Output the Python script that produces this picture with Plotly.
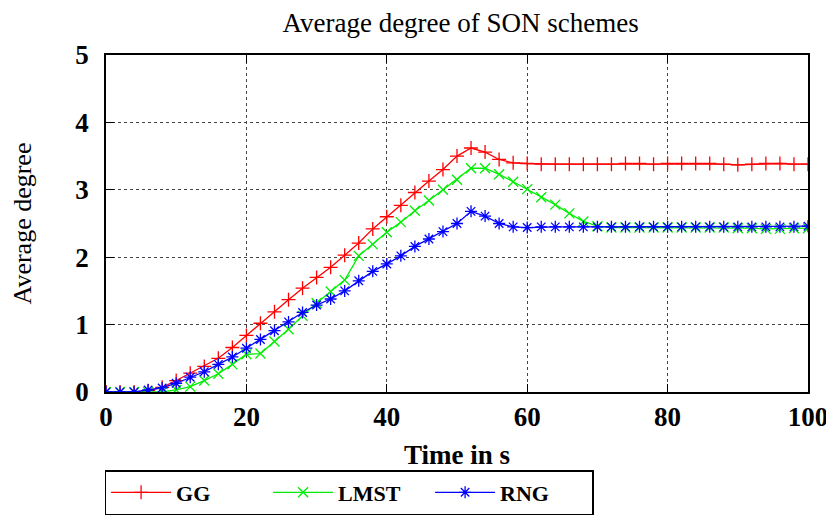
import plotly.graph_objects as go

time_s = list(range(0, 101, 2))

gg = [0, 0, 0, 0.02, 0.07, 0.17, 0.28, 0.38, 0.50, 0.66,
      0.84, 1.02, 1.19, 1.37, 1.54, 1.70, 1.85, 2.03, 2.21, 2.42,
      2.60, 2.77, 2.96, 3.13, 3.30, 3.50, 3.62, 3.56, 3.45, 3.40,
      3.39, 3.38, 3.38, 3.38, 3.38, 3.38, 3.38, 3.39, 3.39, 3.38,
      3.39, 3.39, 3.39, 3.39, 3.38, 3.37, 3.38, 3.39, 3.39, 3.38,
      3.38]

lmst = [0, 0, 0, 0, 0, 0.03, 0.08, 0.17, 0.27, 0.41,
        0.56, 0.57, 0.75, 0.93, 1.13, 1.32, 1.49, 1.66, 2.02, 2.19,
        2.37, 2.52, 2.69, 2.84, 3.00, 3.15, 3.32, 3.32, 3.23, 3.12,
        3.01, 2.89, 2.78, 2.65, 2.53, 2.46, 2.44, 2.44, 2.44, 2.44,
        2.44, 2.44, 2.44, 2.44, 2.44, 2.43, 2.43, 2.42, 2.42, 2.43,
        2.43]

rng = [0, 0, 0, 0.03, 0.06, 0.13, 0.22, 0.30, 0.41, 0.52,
       0.65, 0.78, 0.91, 1.04, 1.18, 1.29, 1.38, 1.50, 1.65, 1.79,
       1.90, 2.02, 2.16, 2.27, 2.38, 2.50, 2.68, 2.61, 2.50, 2.45,
       2.44, 2.45, 2.45, 2.45, 2.45, 2.45, 2.45, 2.45, 2.45, 2.45,
       2.45, 2.45, 2.45, 2.45, 2.45, 2.45, 2.45, 2.45, 2.45, 2.45,
       2.46]

series = [
    ("GG", gg, "#ff0000", "cross-thin-open"),
    ("LMST", lmst, "#00ee00", "x-thin-open"),
    ("RNG", rng, "#0000ff", "asterisk-open"),
]

x_ticks = [0, 20, 40, 60, 80, 100]
y_ticks = [0, 1, 2, 3, 4, 5]

FONT = "Liberation Serif"

fig = go.Figure()
for name, vals, color, sym in series:
    fig.add_trace(go.Scatter(
        x=time_s, y=vals, name=name, mode="lines+markers",
        line=dict(color=color, width=1.3),
        marker=dict(symbol=sym, size=10, color=color,
                    line=dict(color=color, width=1.3)),
    ))

axis_common = dict(
    showline=True, linecolor="black", linewidth=1.5, mirror="ticks",
    ticks="inside", ticklen=8, tickcolor="black", tickwidth=1,
    showgrid=True, gridcolor="#444444", griddash="dot", gridwidth=1,
    zeroline=False,
    tickfont=dict(family=FONT, size=27, color="black", weight="bold"),
)

fig.update_xaxes(range=[0, 100], tickvals=x_ticks,
                 title=dict(text="Time in s", standoff=14,
                            font=dict(family=FONT, size=27, color="black", weight="bold")),
                 ticklabelstandoff=0, **axis_common)
fig.update_yaxes(range=[0, 5], tickvals=y_ticks,
                 title=dict(text="Average degree", standoff=40,
                            font=dict(family=FONT, size=26, color="black")),
                 ticklabelstandoff=10, **axis_common)

# the page adds an 8px body margin, so the figure is sized to the remaining area
fig.update_layout(
    width=826, height=509,
    margin=dict(l=98, r=26, t=47, b=125, autoexpand=False),
    plot_bgcolor="white", paper_bgcolor="white",
    title=dict(text="Average degree of SON schemes", x=0.548, xanchor="center",
               y=0.99, yanchor="top", pad=dict(t=0, b=0),
               font=dict(family=FONT, size=27, color="black")),
    legend=dict(orientation="h", x=-0.002, xanchor="left",
                y=-0.365, yanchor="bottom",
                bordercolor="black", borderwidth=1.5, bgcolor="white",
                font=dict(family=FONT, size=22, color="black", weight="bold"),
                entrywidth=87, entrywidthmode="pixels",
                itemwidth=60, tracegroupgap=0),
    showlegend=True,
)

fig.write_html("out.html")
